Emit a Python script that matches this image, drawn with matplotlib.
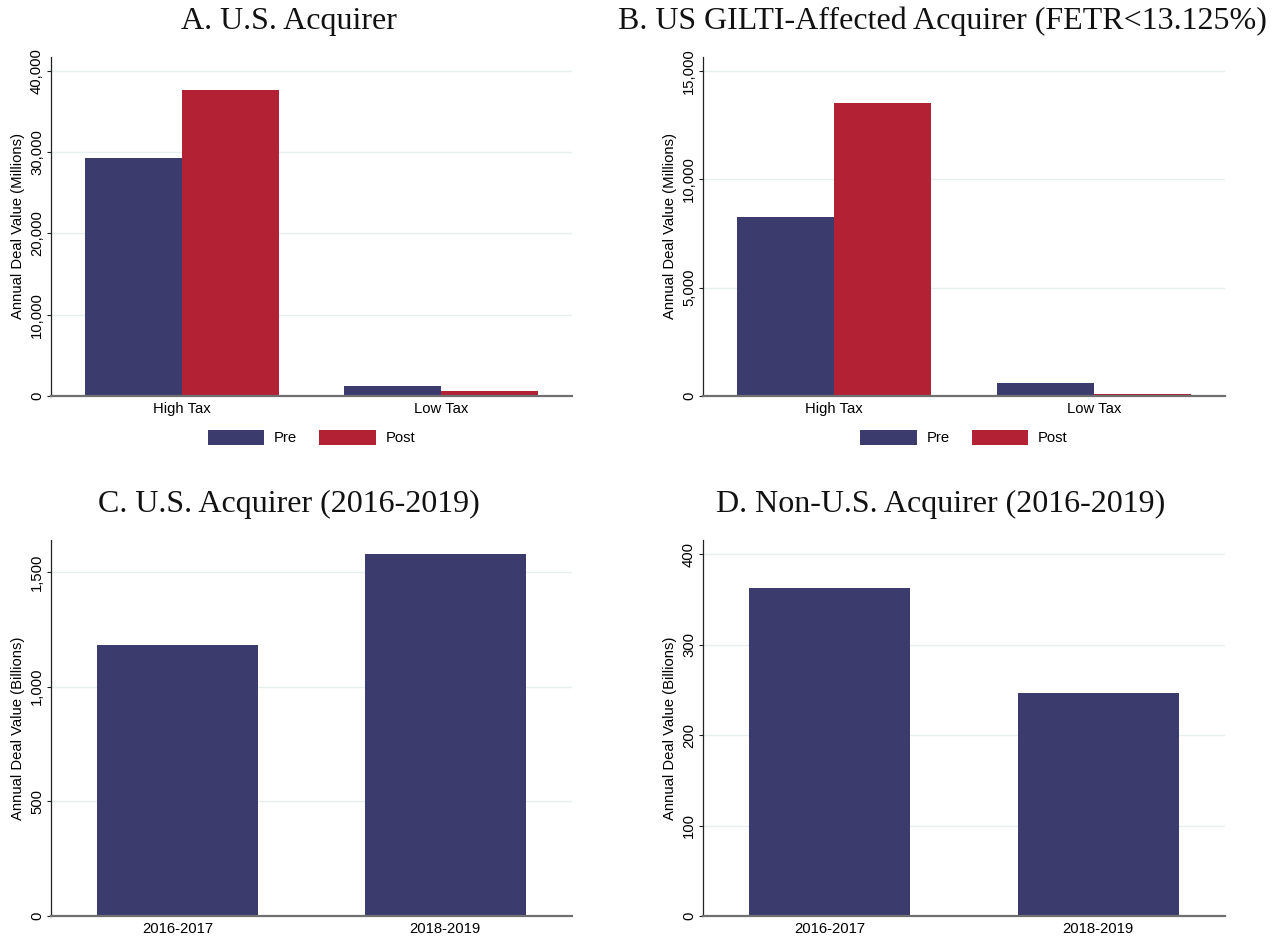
import numpy as np
import matplotlib
matplotlib.use("Agg")
import matplotlib.pyplot as plt
from matplotlib.ticker import FuncFormatter

# ---------------- data ----------------
cats_tax = ["High Tax", "Low Tax"]
a_pre = [29270, 1190]
a_post = [37640, 640]
b_pre = [8260, 590]
b_post = [13520, 70]
cats_period = ["2016-2017", "2018-2019"]
c_vals = [1181, 1580]
d_vals = [363, 247]

titles = ["A. U.S. Acquirer",
          "B. US GILTI-Affected Acquirer (FETR<13.125%)",
          "C. U.S. Acquirer (2016-2019)",
          "D. Non-U.S. Acquirer (2016-2019)"]
ylab_m = "Annual Deal Value (Millions)"
ylab_b = "Annual Deal Value (Billions)"
series_labels = ["Pre", "Post"]

NAVY = "#3C3B6E"
RED = "#B22234"
GRID = "#E6F0F1"

plt.rcParams["font.family"] = ["Liberation Sans", "DejaVu Sans"]
FS = 10.7

W, H = 1281, 939
fig = plt.figure(figsize=(W / 100, H / 100), dpi=100)


def mk_axes(l, r, t, b):
    return fig.add_axes([l / W, 1 - b / H, (r - l) / W, (b - t) / H])


def style(ax, yticks, ylim, ylabel, labx):
    ax.set_ylim(*ylim)
    ax.set_yticks(yticks)
    ax.yaxis.set_major_formatter(FuncFormatter(lambda v, p: f"{int(v):,}"))
    ax.grid(axis="y", color=GRID, linewidth=1.0)
    ax.set_axisbelow(True)
    for s in ["top", "right"]:
        ax.spines[s].set_visible(False)
    ax.spines["left"].set_color("#222222")
    ax.spines["left"].set_linewidth(0.9)
    ax.spines["bottom"].set_color("#707070")
    ax.spines["bottom"].set_linewidth(1.6)
    ax.tick_params(axis="y", length=3, width=0.8, pad=2, labelsize=FS,
                   labelrotation=90, color="#222222")
    for lab in ax.get_yticklabels():
        lab.set_va("center")
    ax.tick_params(axis="x", length=0, pad=4, labelsize=FS)
    ax.set_ylabel(ylabel, fontsize=FS)
    ax.yaxis.set_label_coords(labx, 0.5)


# Panel A
axA = mk_axes(51, 572, 57, 396)
x = np.arange(len(cats_tax))
w = 0.3745
axA.bar(x - w / 2, a_pre, w, color=NAVY, label=series_labels[0])
axA.bar(x + w / 2, a_post, w, color=RED, label=series_labels[1])
axA.set_xlim(-0.506, 1.506)
axA.set_xticks(x)
axA.set_xticklabels(cats_tax)
style(axA, [0, 10000, 20000, 30000, 40000], (0, 41700), ylab_m, -0.050)

# Panel B
axB = mk_axes(703, 1225, 57, 396)
axB.bar(x - w / 2, b_pre, w, color=NAVY, label=series_labels[0])
axB.bar(x + w / 2, b_post, w, color=RED, label=series_labels[1])
axB.set_xlim(-0.506, 1.506)
axB.set_xticks(x)
axB.set_xticklabels(cats_tax)
style(axB, [0, 5000, 10000, 15000], (0, 15650), ylab_m, -0.050)

for ax in (axA, axB):
    ax.legend(loc="upper center", bbox_to_anchor=(0.5, -0.083), ncol=2,
              frameon=False, fontsize=FS, handlelength=3.8, handleheight=1.15,
              handletextpad=0.65, columnspacing=1.5, borderaxespad=0)

# Panel C
xc = np.arange(len(cats_period))
wc = 0.60
axC = mk_axes(51, 572, 540, 916)
axC.bar(xc, c_vals, wc, color=NAVY)
axC.set_xlim(-0.473, 1.473)
axC.set_xticks(xc)
axC.set_xticklabels(cats_period)
style(axC, [0, 500, 1000, 1500], (0, 1640), ylab_b, -0.050)

# Panel D
axD = mk_axes(703, 1225, 540, 916)
axD.bar(xc, d_vals, wc, color=NAVY)
axD.set_xlim(-0.473, 1.473)
axD.set_xticks(xc)
axD.set_xticklabels(cats_period)
style(axD, [0, 100, 200, 300, 400], (0, 415.8), ylab_b, -0.050)

# Titles (serif)
TFS = 23
tfam = ["Liberation Serif", "DejaVu Serif"]
for (cx, by), t in zip([(289, 29), (942, 29), (289, 512), (941, 512)], titles):
    fig.text(cx / W, 1 - by / H, t, ha="center", va="baseline",
             fontsize=TFS, family=tfam, color="#111111")

fig.savefig("out.png", dpi=100, facecolor="white")
